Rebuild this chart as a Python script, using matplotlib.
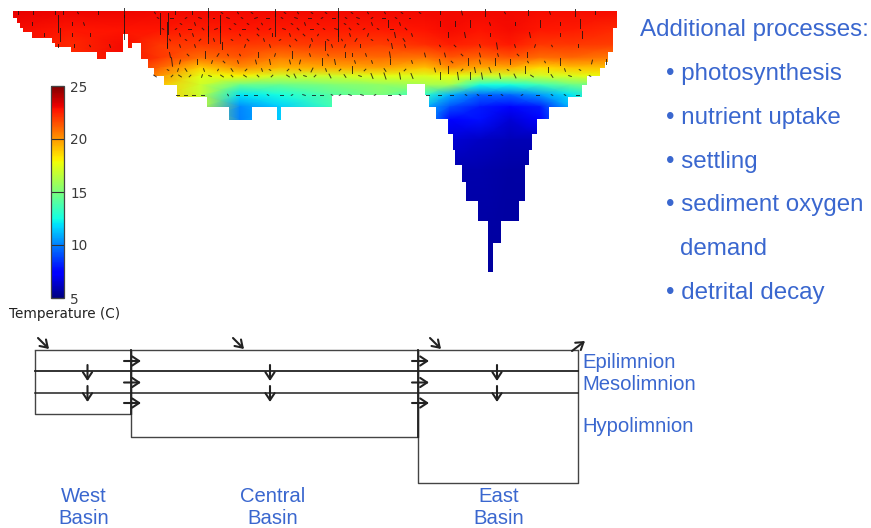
import matplotlib
matplotlib.use('Agg')
import matplotlib.pyplot as plt
import numpy as np
from matplotlib.patches import Polygon

plt.rcParams['font.family'] = ['Liberation Sans', 'DejaVu Sans']

WIDTH, HEIGHT = 871, 528
TEXT_BLUE = '#3a67cf'
LINE_DARK = '#222222'

# lake section: right edge of each model column and its bottom
LAKE_LEFT = 13
LAKE_TOP = 11
COLUMN_RIGHT = [17, 20, 23, 32, 52, 55, 71, 97, 106, 123, 128, 132, 141, 148, 154, 164, 177,
                207, 229, 252, 277, 281, 332, 407, 425, 429, 436, 448, 453, 455, 462, 466,
                478, 488, 493, 501, 519, 525, 529, 532, 537, 549, 568, 582, 587, 600, 605,
                608, 613, 617]
COLUMN_BOTTOM = [18, 23, 28, 32, 38, 43, 47, 52, 59, 52, 34, 48, 43, 59, 68, 76, 85,
                 97, 107, 120, 107, 120, 107, 95, 84, 95, 107, 119, 134, 150, 165, 182,
                 201, 221, 272, 243, 221, 201, 165, 150, 134, 119, 107, 97, 85, 76, 68,
                 62, 52, 28]

TEMP_X = [13, 70, 120, 160, 200, 240, 280, 330, 380, 425, 450, 480, 510, 540, 570, 617]
TEMP_Y = [11, 30, 45, 58, 68, 76, 85, 95, 107, 120, 140, 170, 272]
TEMP = [
    [23.2, 23.1, 23.1, 23.0, 23.0, 23.0, 23.0, 23.0, 23.0, 23.0, 23.0, 23.0, 23.0, 22.9, 22.9, 22.9],
    [22.9, 22.7, 22.8, 22.7, 22.5, 22.7, 22.6, 22.6, 22.6, 22.8, 22.9, 22.8, 22.9, 22.7, 22.6, 22.3],
    [23.0, 22.3, 22.9, 22.0, 21.9, 22.0, 21.8, 22.0, 21.8, 22.2, 22.5, 22.3, 22.6, 22.0, 22.0, 21.8],
    [23.0, 22.3, 22.9, 22.0, 20.8, 21.3, 20.5, 20.8, 20.9, 20.7, 21.3, 21.0, 21.3, 20.8, 21.0, 20.5],
    [23.0, 22.3, 22.9, 21.0, 18.8, 20.0, 19.3, 19.5, 19.7, 19.0, 20.0, 19.5, 19.5, 18.5, 19.0, 19.0],
    [23.0, 22.3, 22.9, 20.0, 17.5, 18.0, 17.0, 17.0, 17.5, 17.3, 17.8, 17.0, 17.0, 17.0, 17.3, 18.0],
    [23.0, 22.3, 22.9, 19.0, 17.0, 14.5, 14.5, 15.0, 15.5, 16.0, 16.0, 12.5, 12.5, 13.5, 14.5, 15.0],
    [23.0, 22.3, 22.9, 19.0, 16.8, 12.0, 12.5, 14.0, 15.0, 13.0, 11.0, 9.5, 9.5, 10.5, 12.0, 15.0],
    [23.0, 22.3, 22.9, 19.0, 16.8, 10.2, 11.5, 13.5, 15.0, 11.0, 9.0, 8.0, 7.5, 8.0, 11.0, 15.0],
    [23.0, 22.3, 22.9, 19.0, 16.8, 10.0, 11.5, 13.5, 15.0, 11.0, 7.5, 7.8, 6.5, 7.5, 11.0, 15.0],
    [23.0, 22.3, 22.9, 19.0, 16.8, 10.0, 11.5, 13.5, 15.0, 11.0, 6.5, 6.2, 6.0, 6.0, 11.0, 15.0],
    [23.0, 22.3, 22.9, 19.0, 16.8, 10.0, 11.5, 13.5, 15.0, 11.0, 5.8, 5.8, 5.7, 5.7, 11.0, 15.0],
    [23.0, 22.3, 22.9, 19.0, 16.8, 10.0, 11.5, 13.5, 15.0, 11.0, 5.6, 5.6, 5.6, 5.6, 11.0, 15.0],
]

# velocity ticks, one list per row
VEL_Y = [13, 18, 24, 29, 35, 40, 46, 55, 62, 70, 76, 95]
VEL_X = [
    [18, 33, 55, 63, 78, 98, 124, 155, 175, 192, 208, 222, 238, 252, 275, 285, 298, 312, 326, 338, 352, 368, 385, 402, 420, 440, 462, 485, 505, 528, 550, 575, 595],
    [158, 172, 186, 200, 214, 228, 242, 256, 268, 282, 296, 310, 322, 334, 346, 358, 372, 384, 396, 410],
    [32, 58, 72, 84, 124, 160, 168, 181, 195, 208, 220, 235, 248, 262, 275, 292, 305, 318, 338, 345, 358, 372, 388, 400, 440, 455, 470, 490, 515, 540, 560, 580],
    [163, 176, 190, 203, 216, 230, 244, 258, 270, 284, 298, 312, 324, 336, 350, 364, 378, 392, 406],
    [44, 60, 72, 90, 124, 167, 180, 193, 208, 220, 240, 258, 272, 290, 304, 318, 338, 350, 368, 395, 412, 448, 465, 490, 530, 560, 582],
    [170, 186, 200, 214, 232, 248, 264, 280, 296, 312, 328, 342, 356, 372, 388, 404],
    [58, 74, 90, 110, 167, 180, 195, 222, 245, 270, 290, 310, 325, 332, 345, 360, 392, 405, 440, 455, 480, 497, 515, 535, 552, 578],
    [170, 188, 205, 218, 228, 240, 258, 275, 292, 310, 328, 345, 352, 366, 390, 425, 445, 462, 480, 498, 518, 527],
    [172, 180, 197, 212, 224, 238, 256, 270, 290, 300, 322, 335, 355, 372, 390, 412, 440, 452, 468, 480, 495, 510, 528, 545, 560, 592, 606],
    [168, 178, 186, 204, 218, 232, 246, 262, 270, 288, 300, 312, 326, 340, 352, 365, 385, 405, 435, 448, 462, 475, 490, 508, 525, 548, 565, 580],
    [155, 172, 180, 190, 202, 210, 222, 232, 245, 258, 272, 288, 295, 305, 315, 330, 345, 360, 372, 385, 400, 412, 440, 458, 470, 482, 500, 515, 532, 552, 570, 590],
    [178, 186, 194, 203, 228, 238, 246, 256, 268, 282, 292, 304, 314, 322, 332, 340, 350, 362, 375, 390, 400, 428, 440, 452, 466, 478, 490, 502, 522, 538, 552, 565, 578],
]
VEL_U = [
    [0, 0, 0, 0, 1, 0, 0, 1, 0, 0, 0, 2, 1, 2, 0, 2, 1, 2, 2, 0, 2, 1, 1, 2, 2, 0, 1, 0, 1, 0, 1, 0, 0],
    [2, 3, -2, 3, 2, 3, 2, -3, 3, 2, 3, 3, -2, 3, 2, 3, -2, 3, 2, 2],
    [0, 0, 0, 1, 0, 0, 0, 2, 1, 0, 0, 2, 2, 1, 0, 2, 1, 2, 0, 2, 2, 1, 0, 1, 0, 0, 0, 1, 0, 0, 0, 0],
    [2, -2, 3, 2, -3, 2, 3, 2, -2, 3, 2, -3, 2, 3, 2, -2, 2, 3, 2],
    [0, 0, 0, 0, 0, 0, 1, 1, 0, 0, 1, 2, 0, 1, 2, -1, 0, 1, -1, 1, 1, 0, 1, 0, 1, 0, 0],
    [1, 2, -2, 1, 2, 2, 1, -2, 2, 1, 2, 1, -2, 2, 1, 2],
    [0, 0, 1, 1, 0, 1, 1, 0, -1, 1, 1, -1, 0, 1, -1, 0, 1, 1, 1, 2, 1, 1, 1, -1, 1, 0],
    [1, 2, 0, -2, 1, 1, 0, -1, 0, 1, 1, 0, 0, 1, 1, 1, 1, 2, 1, 1, 2, 0],
    [1, -1, 0, -1, 2, 1, 1, 1, 1, -1, 0, 1, 1, 1, 0, 1, 1, 2, 0, 1, 0, 0, 1, 1, 0, -1, 0],
    [2, -1, 2, 1, -1, 2, -2, 1, 2, -2, 2, -2, 1, -2, 0, -2, 2, -2, 1, 0, -2, 1, 2, 2, 0, 0, 1, 2],
    [3, -2, 3, -2, -1, 3, 3, 2, 3, -2, 2, 3, 2, 3, -2, 2, 2, 3, 2, 2, 1, 2, 0, 1, 0, 1, 1, 2, 3, 2, 3, 2],
    [3, 3, 3, 3, 1, 3, 3, 3, 2, 3, -2, 3, 3, 3, 2, -2, 3, 3, -2, 3, 2, 3, 3, 3, 2, 2, 3, 2, -2, 3, 2, 2, 3],
]
VEL_V = [
    [4, 3, 4, 3, 2, 4, 8, 2, 3, 3, 8, 1, 2, 1, 6, 1, 2, 1, 1, 8, 1, 2, 2, 1, 1, 3, 4, 6, 2, 5, 3, 6, 4],
    [1, 0, 1, 1, 0, 1, 1, 1, 0, 1, 1, 0, 1, 0, 1, 1, 1, 0, 1, 0],
    [4, 16, 3, 3, 16, 18, 18, 1, 3, 22, 16, 1, 1, 2, 22, 1, 3, 1, 22, 1, 1, 3, 6, 3, 5, 5, 6, 3, 4, 7, 4, 8],
    [1, 1, 0, 2, 1, 1, 0, 2, 1, 1, 2, 0, 1, 1, 2, 1, 1, 0, 2],
    [4, 12, 3, 3, 8, 22, 3, 3, 16, 16, 2, 2, 3, 3, 2, 2, 12, 3, 3, 5, 3, 5, 5, 4, 5, 4, 6],
    [2, 1, 2, 3, 1, 2, 3, 1, 2, 3, 1, 2, 3, 1, 2, 3],
    [3, 3, 2, 3, 5, 3, 3, 6, 3, 3, 2, 3, 8, 3, 3, 4, 5, 3, 2, 2, 3, 6, 3, 3, 2, 4],
    [5, 2, 6, 3, 2, 2, 5, 3, 6, 3, 2, 5, 4, 3, 6, 4, 4, 2, 4, 3, 2, 5],
    [8, 4, 5, 3, 2, 3, 4, 5, 4, 4, 6, 5, 3, 3, 5, 3, 5, 2, 7, 4, 7, 5, 2, 2, 7, 4, 5],
    [1, 3, 3, 3, 2, 3, 2, 3, 1, 2, 2, 4, 3, 2, 7, 2, 3, 2, 4, 7, 2, 5, 5, 1, 7, 5, 3, 1],
    [2, 2, 2, 2, 3, 1, 2, 2, 2, -2, -2, 2, 4, 1, 2, 4, 3, 1, 5, 6, 6, 5, 7, 7, 7, 6, 5, 4, 2, 3, 1, 1],
    [0, 0, 0, 0, 2, 0, 0, 0, 1, 0, 1, 1, 0, 0, 1, 1, 1, 1, 1, 0, 1, 0, 0, 0, 1, 1, 0, 1, 1, 0, 1, 1, 0],
]

# colour bar
BAR_TICKS = [5, 10, 15, 20, 25]

# box diagram
BASINS = ['West\nBasin', 'Central\nBasin', 'East\nBasin']
BASIN_LEFT = [35, 131, 418]
BASIN_RIGHT = [131, 418, 578]
BASIN_BOTTOM = [413.5, 437, 482.5]
LAYER_LINES = [349.5, 371, 392.5]
LAYER_NAMES = ['Epilimnion', 'Mesolimnion', 'Hypolimnion']
PROCESSES = ['• photosynthesis', '• nutrient uptake', '• settling', '• sediment oxygen',
             'demand', '• detrital decay']

fig = plt.figure(figsize=(WIDTH / 100, HEIGHT / 100), dpi=100)
ax = fig.add_axes([0, 0, 1, 1])
ax.set_xlim(0, WIDTH)
ax.set_ylim(HEIGHT, 0)
ax.axis('off')

# section outline with stepped bottom
outline = [(LAKE_LEFT, LAKE_TOP)]
prev_right = LAKE_LEFT
for right, bottom in zip(COLUMN_RIGHT, COLUMN_BOTTOM):
    outline += [(prev_right, bottom), (right, bottom)]
    prev_right = right
outline.append((prev_right, LAKE_TOP))
clip = Polygon(outline, closed=True, transform=ax.transData, fc='none', ec='none')
ax.add_patch(clip)

mesh = ax.pcolormesh(TEMP_X, TEMP_Y, np.array(TEMP), shading='gouraud', cmap='jet', vmin=5, vmax=25)
mesh.set_clip_path(clip)

vel_x = np.concatenate(VEL_X)
vel_y = np.concatenate([[y] * len(xs) for y, xs in zip(VEL_Y, VEL_X)])
ax.quiver(vel_x, vel_y, np.concatenate(VEL_U), np.concatenate(VEL_V), angles='xy', scale_units='xy',
          scale=0.85, units='xy', width=1.0, pivot='mid', headwidth=1, headlength=0, headaxislength=0,
          minlength=0, color='#141414', alpha=0.8)

# colour bar, same scale as the section
cax = fig.add_axes([51 / WIDTH, 1 - 298 / HEIGHT, 13 / WIDTH, 212 / HEIGHT])
cbar = fig.colorbar(mesh, cax=cax, ticks=BAR_TICKS)
cbar.outline.set_edgecolor('#444444')
cbar.outline.set_linewidth(0.9)
cax.tick_params(axis='y', direction='in', length=9.4, width=0.8, color='#333333', right=True,
                labelsize=9.8, labelcolor='#3a3a3a', pad=4.5)
for label in cax.get_yticklabels():
    label.set_family(['DejaVu Sans'])
ax.text(64.5, 314, 'Temperature (C)', ha='center', va='center', fontsize=9.8, color='#222222',
        family=['DejaVu Sans'])

# right hand list
ax.text(640, 30, 'Additional processes:', fontsize=17.4, color=TEXT_BLUE, va='center')
for i, item in enumerate(PROCESSES):
    left = 680 if item == 'demand' else 666
    ax.text(left, 74 + i * 43.8, item, fontsize=17.4, color=TEXT_BLUE, va='center')

# boxes
for left, right, bottom in zip(BASIN_LEFT, BASIN_RIGHT, BASIN_BOTTOM):
    ax.plot([left, left, right, right], [LAYER_LINES[0], bottom, bottom, LAYER_LINES[0]],
            color='#444444', lw=1.0, solid_capstyle='butt')
ax.plot([35, 578], [349.5, 349.5], color='#444444', lw=1.0)
ax.plot([35, 578], [371, 371], color=LINE_DARK, lw=1.3)
ax.plot([35, 578], [392.5, 392.5], color=LINE_DARK, lw=1.1)
ax.plot([131, 131], [349.5, 413.5], color=LINE_DARK, lw=1.3)
ax.plot([418, 418], [349.5, 437], color=LINE_DARK, lw=1.3)


def arrow(x0, y0, x1, y1):
    ax.annotate('', xy=(x1, y1), xytext=(x0, y0),
                arrowprops=dict(arrowstyle='->,head_length=0.5,head_width=0.33', color=LINE_DARK,
                                lw=1.5, shrinkA=0, shrinkB=0))


for x in [38, 233, 430]:
    arrow(x, 338, x + 11, 349)
arrow(572, 351, 585, 341)
for x in [124, 412]:
    for y in [361, 382.5, 403]:
        arrow(x, y, x + 17, y)
for x in [87.5, 270, 497]:
    arrow(x, 365, x, 381)
    arrow(x, 386, x, 402)

for name, y in zip(LAYER_NAMES, [362, 384, 426]):
    ax.text(582, y, name, fontsize=14.6, color=TEXT_BLUE, va='center')
for name, x in zip(BASINS, [84, 273, 499]):
    first, second = name.split('\n')
    ax.text(x, 497, first, fontsize=14.6, color=TEXT_BLUE, ha='center', va='center')
    ax.text(x, 519, second, fontsize=14.6, color=TEXT_BLUE, ha='center', va='center')

fig.savefig('out.png', dpi=100, facecolor='white')
